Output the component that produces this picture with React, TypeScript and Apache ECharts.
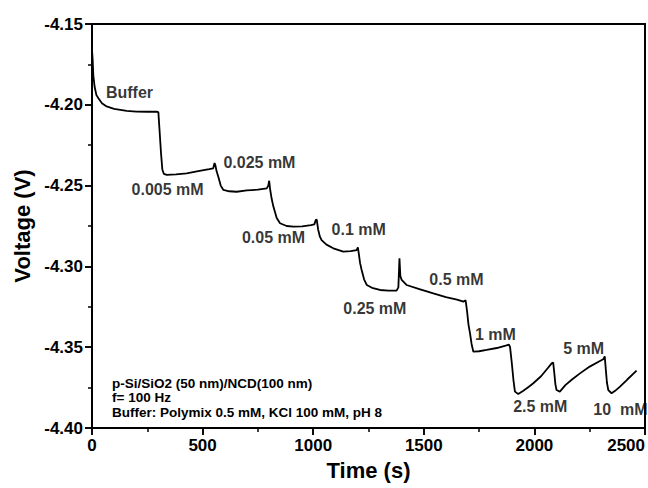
import React, { useEffect, useRef } from "react";
import * as echarts from "echarts";

const timeS = [
  0, 3, 6, 12, 20, 29, 45, 66, 100, 157, 200, 250, 292, 300, 305, 312, 318, 325, 338, 380, 428, 480, 530, 548,
  554, 558, 563, 571, 582, 594, 620, 654, 700, 750, 790, 797, 801, 805, 812, 820, 835, 850, 880, 910, 950, 990,
  1005, 1012, 1016, 1022, 1030, 1038, 1060, 1091, 1136, 1170, 1196, 1202, 1206, 1212, 1219, 1230, 1242, 1270,
  1302, 1340, 1377, 1385, 1390, 1394, 1400, 1422, 1480, 1543, 1600, 1650, 1679, 1689, 1695, 1702, 1709, 1716,
  1724, 1750, 1784, 1830, 1870, 1885, 1890, 1898, 1905, 1912, 1927, 1950, 1975, 1995, 2030, 2060, 2078, 2085,
  2090, 2095, 2100, 2115, 2140, 2170, 2206, 2250, 2290, 2311, 2318, 2323, 2328, 2334, 2349, 2365, 2387, 2420,
  2462,
];

const voltageV = [
  -4.166, -4.172, -4.182, -4.189, -4.194, -4.196, -4.199, -4.201, -4.2025, -4.2038, -4.2042, -4.2043, -4.2043,
  -4.2045, -4.215, -4.23, -4.24, -4.2428, -4.2434, -4.243, -4.2424, -4.241, -4.2398, -4.2393, -4.236, -4.2375,
  -4.241, -4.2445, -4.25, -4.2527, -4.2535, -4.2538, -4.253, -4.2525, -4.2517, -4.25, -4.247, -4.252, -4.258,
  -4.263, -4.27, -4.2733, -4.275, -4.2754, -4.2752, -4.2744, -4.274, -4.2712, -4.271, -4.277, -4.2815, -4.2837,
  -4.2865, -4.2888, -4.2909, -4.2905, -4.2899, -4.2882, -4.292, -4.298, -4.3022, -4.308, -4.3115, -4.3135,
  -4.3146, -4.315, -4.315, -4.313, -4.295, -4.306, -4.3084, -4.3115, -4.314, -4.3167, -4.319, -4.3205, -4.3218,
  -4.321, -4.327, -4.336, -4.3414, -4.348, -4.3528, -4.3525, -4.3517, -4.3505, -4.349, -4.3484, -4.35, -4.36,
  -4.37, -4.3775, -4.379, -4.377, -4.3745, -4.3723, -4.368, -4.363, -4.36, -4.3595, -4.366, -4.373, -4.3765,
  -4.3775, -4.3735, -4.37, -4.3662, -4.362, -4.359, -4.3575, -4.3557, -4.364, -4.372, -4.3765, -4.3785, -4.377,
  -4.3744, -4.37, -4.3645,
];

const stepLabels = [
  "Buffer", "0.005 mM", "0.025 mM", "0.05 mM", "0.1 mM", "0.25 mM", "0.5 mM", "1 mM", "2.5 mM", "5 mM", "10  mM",
];
const stepLabelT = [63, 179, 594, 678, 1083, 1136, 1525, 1731, 1904, 2130, 2266];
const stepLabelV = [-4.1925, -4.2527, -4.2358, -4.2824, -4.277, -4.326, -4.3078, -4.3424, -4.3864, -4.3507, -4.3888];

const infoLines = [
  "p-Si/SiO2 (50 nm)/NCD(100 nm)",
  "f= 100 Hz",
  "Buffer: Polymix 0.5 mM, KCl 100 mM, pH 8",
];

const xAxisTitle = "Time (s)";
const yAxisTitle = "Voltage (V)";

const X_MIN = 0;
const X_MAX = 2500;
const X_STEP = 500;
const Y_MIN = -4.4;
const Y_MAX = -4.15;
const Y_STEP = 0.05;

const GRID = { left: 92, right: 3, top: 24, bottom: 60 };

export default function App() {
  const ref = useRef<HTMLDivElement>(null);

  useEffect(() => {
    document.body.style.margin = "0";
    const chart = echarts.init(ref.current as HTMLDivElement, null, { renderer: "svg" });
    const lineData = timeS.map((t, i) => [t, voltageV[i]]);
    const labelData = stepLabels.map((name, i) => ({ name, value: [stepLabelT[i], stepLabelV[i]] }));

    const tickLabel = {
      color: "#000",
      fontSize: 17,
      fontWeight: "bold",
      margin: 9,
    };
    const nameStyle = {
      color: "#000",
      fontSize: 22,
      fontWeight: "bold",
    };
    const xBase = { type: "value", min: X_MIN, max: X_MAX, interval: X_STEP };
    const yBase = { type: "value", min: Y_MIN, max: Y_MAX, interval: Y_STEP };
    const blackLine = { show: true, onZero: false, lineStyle: { color: "#000", width: 1.9 } };
    const majorTick = { show: true, length: 7, lineStyle: { color: "#000", width: 1.9 } };
    const minorTick = { show: true, splitNumber: 2, length: 4, lineStyle: { color: "#000", width: 1.5 } };
    const noTick = { show: true, length: 0, lineStyle: { color: "rgba(0,0,0,0)", width: 0 } };

    const chartW = 648;
    const chartH = 488;

    chart.setOption({
      animation: false,
      title: {
        text: infoLines.join("\n"),
        left: 112,
        top: 376,
        padding: 0,
        textStyle: {
          color: "#000",
          fontSize: 13.5,
          fontWeight: "bold",
          lineHeight: 14.5,
        },
      },
      grid: { ...GRID, containLabel: false, outerBoundsMode: "none" },
      xAxis: [
        {
          ...xBase,
          position: "bottom",
          name: xAxisTitle,
          nameLocation: "middle",
          nameGap: 31,
          nameTextStyle: nameStyle,
          axisLine: { show: false, onZero: false },
          axisTick: { show: false },
          splitLine: { show: false },
          axisLabel: { ...tickLabel, alignMaxLabel: "right", formatter: (v: number) => String(v) },
        },
        {
          ...xBase,
          position: "bottom",
          axisLine: blackLine,
          axisTick: majorTick,
          axisLabel: { show: false },
          splitLine: { show: false },
        },
        {
          ...xBase,
          position: "bottom",
          axisLine: { show: false, onZero: false },
          axisTick: { show: false },
          minorTick,
          axisLabel: { show: false },
          splitLine: { show: false },
        },
        {
          ...xBase,
          position: "top",
          axisLine: blackLine,
          axisTick: noTick,
          axisLabel: { show: false },
          splitLine: { show: false },
        },
      ],
      yAxis: [
        {
          ...yBase,
          position: "left",
          name: yAxisTitle,
          nameLocation: "middle",
          nameGap: 59,
          nameTextStyle: nameStyle,
          axisLine: { show: false, onZero: false },
          axisTick: { show: false },
          splitLine: { show: false },
          axisLabel: { ...tickLabel, formatter: (v: number) => v.toFixed(2) },
        },
        {
          ...yBase,
          position: "left",
          axisLine: blackLine,
          axisTick: majorTick,
          axisLabel: { show: false },
          splitLine: { show: false },
        },
        {
          ...yBase,
          position: "left",
          axisLine: { show: false, onZero: false },
          axisTick: { show: false },
          minorTick,
          axisLabel: { show: false },
          splitLine: { show: false },
        },
        {
          ...yBase,
          position: "right",
          axisLine: blackLine,
          axisTick: noTick,
          axisLabel: { show: false },
          splitLine: { show: false },
        },
      ],
      series: [
        {
          type: "line",
          xAxisIndex: 0,
          yAxisIndex: 0,
          data: lineData,
          showSymbol: false,
          lineStyle: { color: "#000", width: 1.8 },
        },
        {
          type: "scatter",
          xAxisIndex: 0,
          yAxisIndex: 0,
          data: labelData,
          symbolSize: 0,
          label: {
            show: true,
            formatter: "{b}",
            position: "right",
            distance: 0,
            color: "#000",
            fontSize: 16,
            fontWeight: "bold",
          },
        },
      ],
      graphic: [
        {
          type: "rect",
          silent: true,
          z: 10,
          shape: {
            x: GRID.left,
            y: GRID.top,
            width: chartW - GRID.left - GRID.right,
            height: chartH - GRID.top - GRID.bottom,
          },
          style: { fill: "none", stroke: "#000", lineWidth: 1.9 },
        },
      ],
    });

    return () => chart.dispose();
  }, []);

  return <div ref={ref} style={{ width: 648, height: 488 }} />;
}
